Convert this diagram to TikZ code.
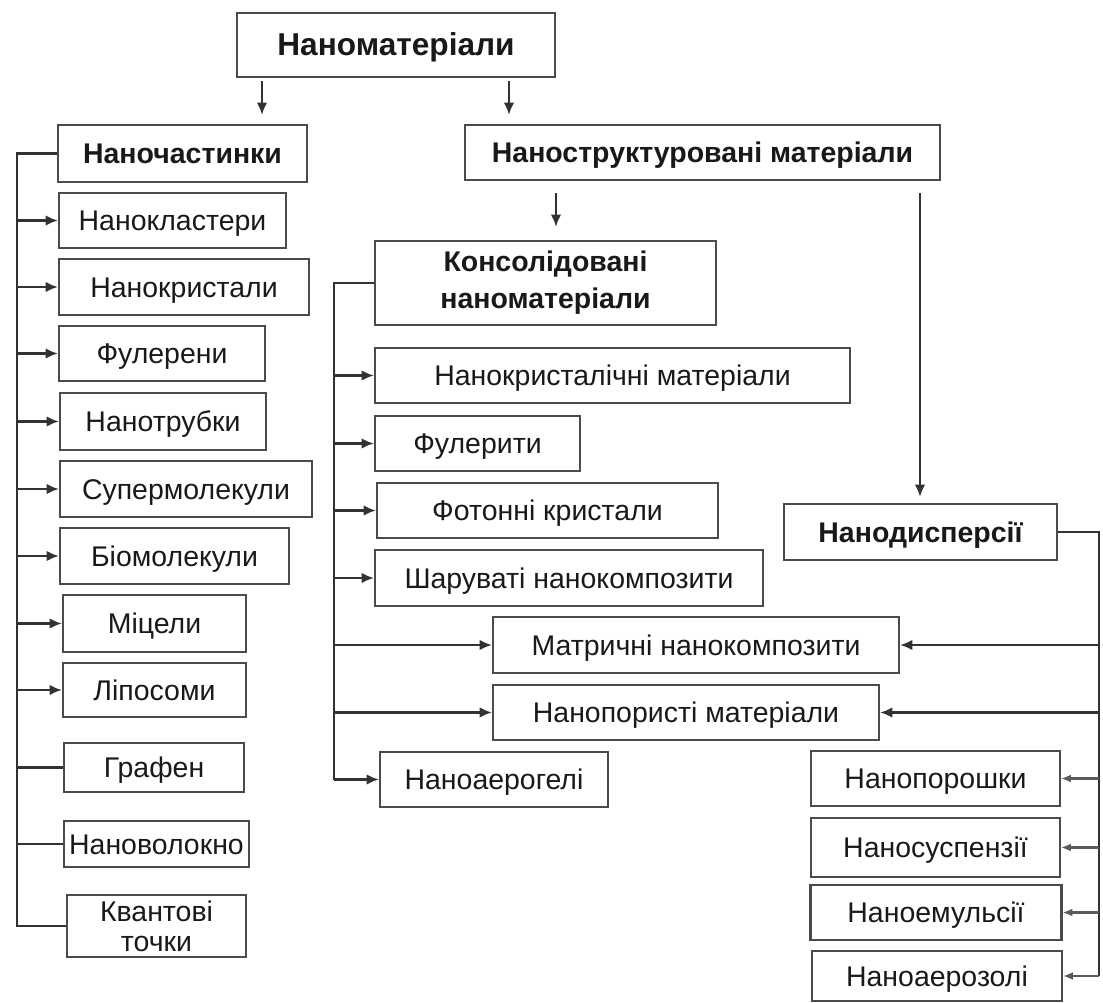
\documentclass[tikz,border=0pt]{standalone}
\usepackage{fontspec}
\setmainfont{Liberation Sans}
\usepackage{tikz}
\usetikzlibrary{arrows.meta, positioning, calc}
\definecolor{cLine}{RGB}{50,50,50}
\definecolor{cFrame}{RGB}{75,75,75}
\definecolor{cText}{RGB}{25,25,25}
\tikzset{
	item/.style ={rectangle, draw=cFrame, line width=1.3pt, inner sep=0pt, align=center, text=cText, font=\fontsize{16.2}{18}\selectfont},
	one/.style  ={item, text height=12pt, text depth=0.5pt},
	head/.style ={one, font=\fontsize{16.2}{21}\selectfont\bfseries},
	headtwo/.style={item, font=\fontsize{16.2}{21}\selectfont\bfseries},
	title/.style={one, font=\fontsize{18}{21}\selectfont\bfseries, text height=13pt},
	% connectors
	link/.style ={draw=cLine, line width=1.3pt},
	feed/.style ={link, -{Latex[length=7pt, width=6pt]}},
	feedsm/.style={link, draw=cLine!80, -{Latex[length=5.5pt, width=4.5pt]}},
}

\begin{document}
\begin{tikzpicture}[x=0.02cm, y=-0.02cm]
	\useasboundingbox (0,0) rectangle (1103,1003);
	% top level
	\node[title, minimum width=6.36cm, minimum height=1.28cm] (nm) at (396,45) {Наноматеріали};
	\node[head, minimum width=4.98cm, minimum height=1.14cm] (nch) at (182.5,153.5) {Наночастинки};
	\node[head, minimum width=9.5cm, minimum height=1.1cm] (nstr) at (702.5,152.5) {Наноструктуровані матеріали};
	\node[headtwo, minimum width=6.82cm, minimum height=1.68cm] (kons) at (545.5,283) {Консолідовані\\наноматеріали};
	\node[head, minimum width=5.46cm, minimum height=1.12cm] (ndisp) at (920.5,532) {Нанодисперсії};
	% nanoparticles
	\node[one, minimum width=4.54cm, minimum height=1.1cm] (ncl) at (172.5,220.5) {Нанокластери};
	\node[one, minimum width=5cm, minimum height=1.12cm] (ncr) at (184,287) {Нанокристали};
	\node[one, minimum width=4.12cm, minimum height=1.1cm] (ful) at (162,353.5) {Фулерени};
	\node[one, minimum width=4.12cm, minimum height=1.14cm] (ntr) at (163,421.5) {Нанотрубки};
	\node[one, minimum width=5.04cm, minimum height=1.12cm] (sup) at (186,489) {Супермолекули};
	\node[one, minimum width=4.58cm, minimum height=1.12cm] (bio) at (174.5,556) {Біомолекули};
	\node[one, minimum width=3.66cm, minimum height=1.14cm] (mic) at (154.5,623.5) {Міцели};
	\node[one, minimum width=3.66cm, minimum height=1.08cm] (lip) at (154.5,690) {Ліпосоми};
	\node[one, minimum width=3.6cm, minimum height=0.98cm] (gra) at (154,767.5) {Графен};
	\node[one, minimum width=3.7cm, minimum height=0.92cm] (nvol) at (156.5,844) {Нановолокно};
	\node[item, minimum width=3.58cm, minimum height=1.24cm, font=\fontsize{16.2}{17}\selectfont] (kv) at (156.5,926) {Квантові\\точки};
	% consolidated
	\node[one, minimum width=9.5cm, minimum height=1.1cm] (nkm) at (612.5,375.5) {Нанокристалічні матеріали};
	\node[one, minimum width=4.1cm, minimum height=1.1cm] (fur) at (477.5,443.5) {Фулерити};
	\node[one, minimum width=6.82cm, minimum height=1.1cm] (fot) at (547.5,510.5) {Фотонні кристали};
	\node[one, minimum width=7.76cm, minimum height=1.12cm] (sha) at (569,578) {Шаруваті нанокомпозити};
	\node[one, minimum width=8.12cm, minimum height=1.12cm] (mat) at (696,645) {Матричні нанокомпозити};
	\node[one, minimum width=7.72cm, minimum height=1.1cm] (npor) at (686,712.5) {Нанопористі матеріали};
	\node[one, minimum width=4.56cm, minimum height=1.1cm] (naer) at (494,779.5) {Наноаерогелі};
	% dispersions
	\node[one, minimum width=4.98cm, minimum height=1.1cm] (npw) at (935.5,778.5) {Нанопорошки};
	\node[one, minimum width=4.98cm, minimum height=1.18cm] (nsus) at (935.5,847.5) {Наносуспензії};
	\node[one, minimum width=5.02cm, minimum height=1.1cm] (nem) at (936,912.5) {Наноемульсії};
	\node[one, minimum width=5cm, minimum height=1cm] (naerz) at (937,976) {Наноаерозолі};
	% bus lines
	\coordinate (lbus) at (17,0);
	\coordinate (mbus) at (334,0);
	\coordinate (rbus) at (1099,0);
	\coordinate (t1) at (262,0);
	\coordinate (t2) at (509,0);
	\coordinate (t3) at (556,0);
	\coordinate (t4) at (920,0);
	\draw[feed, shorten <=0.06cm, shorten >=0.18cm] (t1 |- nm.south) -- (t1 |- nch.north);
	\draw[feed, shorten <=0.06cm, shorten >=0.18cm] (t2 |- nm.south) -- (t2 |- nstr.north);
	\draw[feed, shorten <=0.24cm, shorten >=0.26cm] (t3 |- nstr.south) -- (t3 |- kons.north);
	\draw[feed, shorten <=0.24cm, shorten >=0.12cm] (t4 |- nstr.south) -- (t4 |- ndisp.north);
	\draw[link] (nch.west) -| (lbus |- kv.west) -- (kv.west);
	\foreach \n in {ncl,ncr,ful,ntr,sup,bio,mic,lip}
		\draw[feed] (lbus |- \n.west) -- (\n.west);
	\foreach \n in {gra,nvol}
		\draw[link] (lbus |- \n.west) -- (\n.west);
	\draw[link] (kons.west) -| (mbus |- naer.west);
	\foreach \n in {nkm,fur,fot,sha,mat,npor,naer}
		\draw[feed] (mbus |- \n.west) -- (\n.west);
	\draw[link] (ndisp.east) -| (rbus |- naerz.east);
	\foreach \n in {mat,npor}
		\draw[feed] (rbus |- \n.east) -- (\n.east);
	\foreach \n in {npw,nsus,nem,naerz}
		\draw[feedsm] (rbus |- \n.east) -- (\n.east);
\end{tikzpicture}
\end{document}
